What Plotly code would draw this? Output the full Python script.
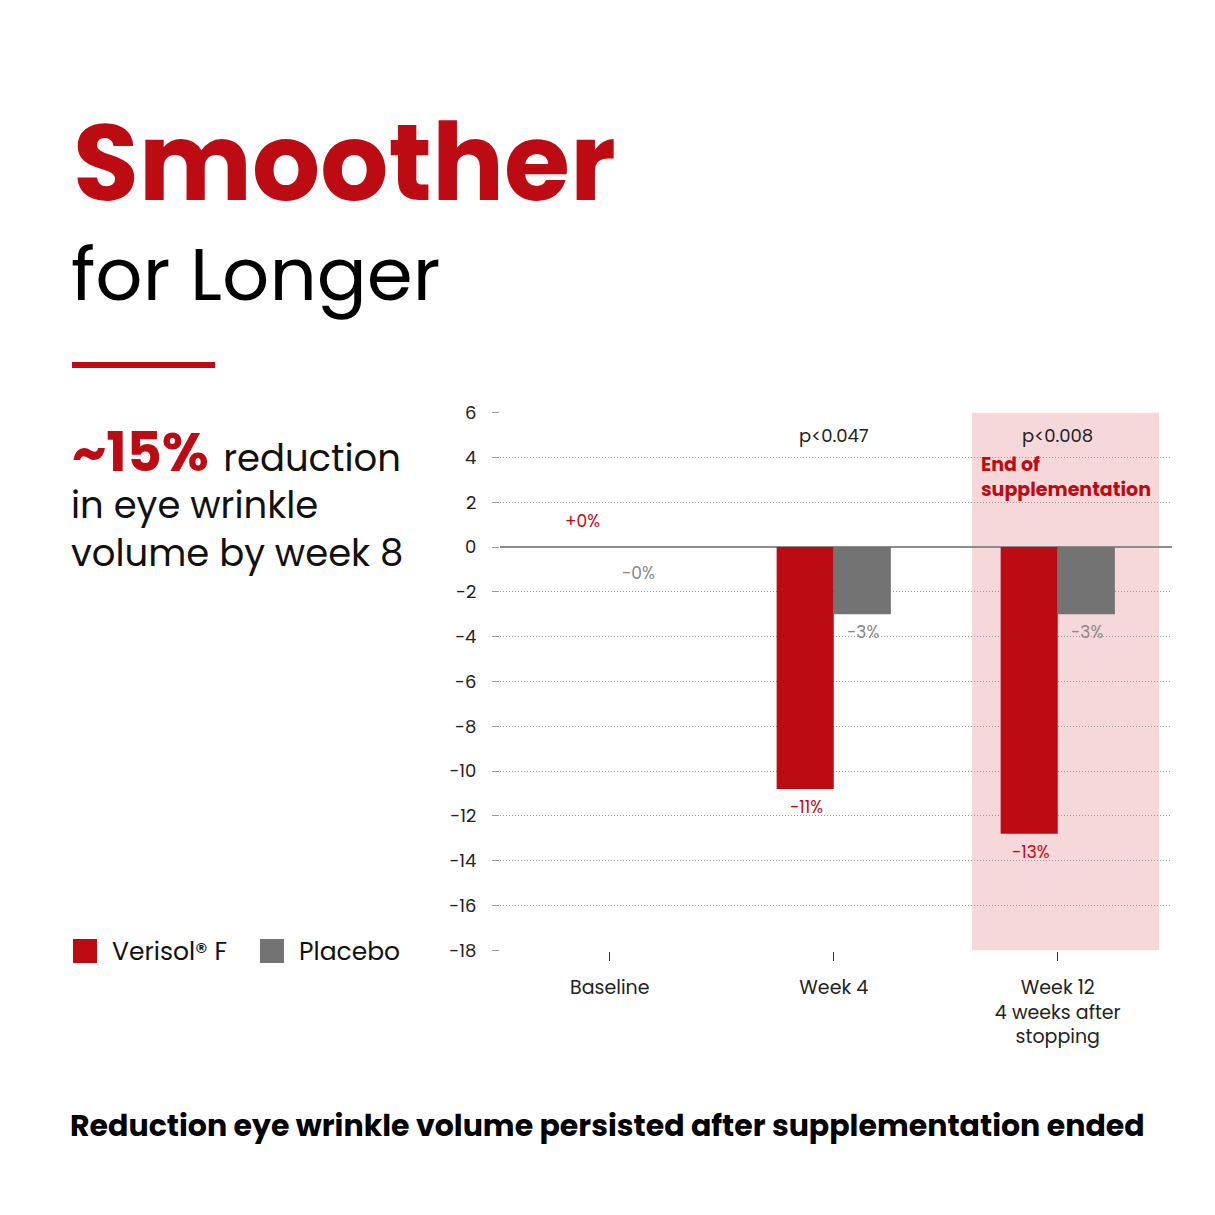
import plotly.graph_objects as go

# data
categories = ["Baseline", "Week 4", "Week 12<br>4 weeks after<br>stopping"]
series_names = ["Verisol® F", "Placebo"]
verisol = [0, -10.8, -12.8]
placebo = [0, -3.0, -3.0]
verisol_labels = ["+0%", "-11%", "-13%"]
placebo_labels = ["-0%", "-3%", "-3%"]
p_values = ["", "p&lt;0.047", "p&lt;0.008"]
y_ticks = [6, 4, 2, 0, -2, -4, -6, -8, -10, -12, -14, -16, -18]

RED = "#BD0B14"
GREY = "#737373"
PINK = "#F6D8DB"
FONT = "Poppins, Inter, sans-serif"

W = H = 1215
OFF = 8  # page margin the browser adds around the figure


def px(x):
    return (x - OFF) / W


def py(y):
    return 1 - (y - OFF) / H


fig = go.Figure()
fig.add_trace(go.Bar(x=categories, y=verisol, name=series_names[0],
                     marker_color=RED, marker_line_width=0))
fig.add_trace(go.Bar(x=categories, y=placebo, name=series_names[1],
                     marker_color=GREY, marker_line_width=0))

# bar value labels
for i, (v, lab) in enumerate(zip(verisol, verisol_labels)):
    up = lab.startswith("+")
    fig.add_annotation(x=i - 0.12, y=v, xref="x", yref="y", text=lab,
                       showarrow=False, yanchor="bottom" if up else "top",
                       yshift=12 if up else (-12 if v == 0 else -4),
                       font=dict(family=FONT, size=17, color=RED))
for i, (v, lab) in enumerate(zip(placebo, placebo_labels)):
    fig.add_annotation(x=i + 0.13, y=v, xref="x", yref="y", text=lab,
                       showarrow=False, yanchor="top",
                       yshift=-12 if v == 0 else -4,
                       font=dict(family=FONT, size=17, color="#8a8a8a"))

# p-values
for i, p in enumerate(p_values):
    if p:
        fig.add_annotation(x=i, y=5, xref="x", yref="y", text=p, showarrow=False,
                           yanchor="middle",
                           font=dict(family=FONT, size=18, color="#222222"))

# end of supplementation band
fig.add_shape(type="rect", xref="x", yref="y", x0=1.617, x1=2.452, y0=-18, y1=6,
              fillcolor=PINK, line_width=0, layer="below")
fig.add_annotation(x=px(979), y=py(477), xref="paper", yref="paper",
                   text="<b>End of<br>supplementation</b>", showarrow=False,
                   xanchor="left", yanchor="middle", align="left",
                   font=dict(family=FONT, size=19, color=RED))

# left side text
fig.add_annotation(x=px(71), y=py(162), xref="paper", yref="paper",
                   text="<b>Smoother</b>", showarrow=False,
                   xanchor="left", yanchor="middle",
                   font=dict(family=FONT, size=107, color=RED))
fig.add_annotation(x=px(69), y=py(274), xref="paper", yref="paper",
                   text="for Longer", showarrow=False,
                   xanchor="left", yanchor="middle",
                   font=dict(family=FONT, size=74, color="#000000"))
fig.add_shape(type="rect", xref="paper", yref="paper", x0=px(72), x1=px(215),
              y0=py(368), y1=py(362), fillcolor=RED, line_width=0)
fig.add_annotation(x=px(70), y=py(452), xref="paper", yref="paper",
                   text="<span style='color:%s'><b>~15%%</b></span> "
                        "<span style='font-size:37px'>reduction</span>" % RED,
                   showarrow=False, xanchor="left", yanchor="middle",
                   font=dict(family=FONT, size=54, color="#111111"))
fig.add_annotation(x=px(69), y=py(529), xref="paper", yref="paper",
                   text="in eye wrinkle<br>volume by week 8", showarrow=False,
                   xanchor="left", yanchor="middle", align="left",
                   font=dict(family=FONT, size=37, color="#111111"))

# legend drawn by hand
legend_x = [73, 260]
for name, color, x0 in zip(series_names, [RED, GREY], legend_x):
    fig.add_shape(type="rect", xref="paper", yref="paper", x0=px(x0), x1=px(x0 + 24),
                  y0=py(963), y1=py(939), fillcolor=color, line_width=0)
    fig.add_annotation(x=px(x0 + 37), y=py(951), xref="paper", yref="paper",
                       text=name, showarrow=False,
                       xanchor="left", yanchor="middle",
                       font=dict(family=FONT, size=25, color="#111111"))

# bottom caption
fig.add_annotation(x=px(607), y=py(1125), xref="paper", yref="paper",
                   text="<b>Reduction eye wrinkle volume persisted after supplementation ended</b>",
                   showarrow=False, xanchor="center", yanchor="middle",
                   font=dict(family=FONT, size=30, color="#000000"))

fig.update_layout(
    width=W, height=H,
    margin=dict(l=0, r=0, t=0, b=0),
    paper_bgcolor="white", plot_bgcolor="rgba(0,0,0,0)",
    barmode="group", bargap=0.49, bargroupgap=0,
    showlegend=False,
    font=dict(family=FONT, color="#222222"),
)
fig.update_xaxes(
    domain=[px(500), px(1172)], range=[-0.49, 2.51],
    automargin=False,
    showgrid=False, showline=False, zeroline=False,
    ticks="outside", ticklen=9, tickcolor="#333333", tickwidth=1,
    ticklabelstandoff=10,
    tickfont=dict(family=FONT, size=19, color="#222222"),
)
fig.update_yaxes(
    domain=[py(951), py(412)], range=[-18.03, 6.03],
    automargin=False,
    tickvals=y_ticks, ticktext=[str(v) for v in y_ticks],
    showgrid=True, gridcolor="#9a9a9a", griddash="1px,2px", gridwidth=1,
    zeroline=True, zerolinecolor="#8c8c8c", zerolinewidth=1.5,
    showline=False,
    ticks="outside", ticklen=7, tickcolor="#999999",
    ticklabelstandoff=12,
    tickfont=dict(family=FONT, size=18, color="#222222"),
)

fig.write_html("out.html")
